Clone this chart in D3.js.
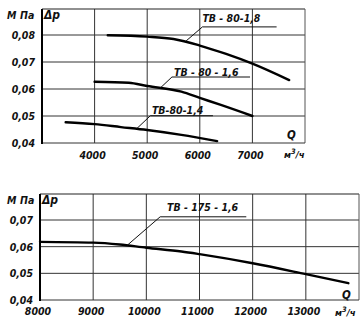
<!DOCTYPE html>
<html>
<head>
<meta charset="utf-8">
<script src="https://cdn.jsdelivr.net/npm/d3@7"></script>
<style>
  html, body { margin: 0; padding: 0; background: #fff; }
  svg { display: block; }
  text { font-family: "Liberation Sans Narrow", "DejaVu Sans Condensed", sans-serif; font-style: italic; font-weight: bold; fill: #111; }
</style>
</head>
<body>
<svg id="chart" width="363" height="325"></svg>
<script>
// ---------- DATA ----------
// Top chart: fan curves ТВ-80 (Q, м³/ч ; Δp, МПа)
const topXTicks = [4000, 5000, 6000, 7000];
const topYTicks = [0.04, 0.05, 0.06, 0.07, 0.08];
const topYTickLabels = ["0,04", "0,05", "0,06", "0,07", "0,08"];

const tv80_18_Q = [4250, 5000, 5500, 6000, 6500, 7000, 7700];
const tv80_18_P = [0.0799, 0.0794, 0.0785, 0.0761, 0.0730, 0.0694, 0.0633];

const tv80_16_Q = [4000, 4650, 5000, 5650, 6000, 6400, 7000];
const tv80_16_P = [0.0627, 0.0623, 0.0611, 0.0590, 0.0567, 0.0541, 0.0500];

const tv80_14_Q = [3450, 4000, 4500, 5000, 5650, 6330];
const tv80_14_P = [0.0477, 0.0470, 0.0459, 0.0448, 0.0430, 0.0407];

// Bottom chart: ТВ-175-1,6
const bottomXTicks = [8000, 9000, 10000, 11000, 12000, 13000];
const bottomYTicks = [0.04, 0.05, 0.06, 0.07];
const bottomYTickLabels = ["0,04", "0,05", "0,06", "0,07"];

const tv175_16_Q = [8000, 9000, 9500, 10000, 10660, 11000, 12000, 13000, 13800];
const tv175_16_P = [0.0618, 0.0615, 0.0608, 0.0596, 0.0582, 0.0572, 0.0538, 0.0497, 0.0463];

// Curve labels: [text, textQ, textP, lineStartQ, lineEndQ, lineP, leaderQ, leaderP]
const topLabels = [
  ["ТВ - 80-1,8", 6050, 0.0849, 6050, 7460, 0.0830, 5740, 0.0778],
  ["ТВ - 80 - 1,6", 5510, 0.0648, 5470, 6955, 0.06444, 5245, 0.0603],
  ["ТВ-80-1,4", 5090, 0.0506, 5060, 6250, 0.0501, 4800, 0.0453]
];
const bottomLabels = [
  ["ТВ - 175 - 1,6", 10390, 0.0733, 10260, 11880, 0.0712, 9640, 0.0605]
];

// ---------- DRAW ----------
const svg = d3.select("#chart");

function zip(q, p) { return q.map((d, i) => ({ q: d, p: p[i] })); }

function panel(cfg) {
  const g = svg.append("g");
  const x = d3.scaleLinear().domain(cfg.xDomain).range([cfg.left, cfg.right]);
  const y = d3.scaleLinear().domain(cfg.yDomain).range([cfg.bottom, cfg.yTopTick]);

  // gridlines
  g.selectAll(".vg").data(cfg.xTicks).enter().append("line")
    .attr("x1", d => x(d)).attr("x2", d => x(d))
    .attr("y1", cfg.top).attr("y2", cfg.bottom)
    .attr("stroke", "#333").attr("stroke-width", 1);
  g.selectAll(".hg").data(cfg.yTicks.filter(v => v > cfg.yDomain[0])).enter().append("line")
    .attr("x1", cfg.left).attr("x2", cfg.right)
    .attr("y1", d => y(d)).attr("y2", d => y(d))
    .attr("stroke", "#333").attr("stroke-width", 1);

  // frame
  g.append("line").attr("x1", cfg.left).attr("x2", cfg.right).attr("y1", cfg.top).attr("y2", cfg.top)
    .attr("stroke", "#222").attr("stroke-width", 1.2);
  g.append("line").attr("x1", cfg.right).attr("x2", cfg.right).attr("y1", cfg.top).attr("y2", cfg.bottom)
    .attr("stroke", "#555").attr("stroke-width", 1);
  g.append("line").attr("x1", cfg.left).attr("x2", cfg.right).attr("y1", cfg.bottom).attr("y2", cfg.bottom)
    .attr("stroke", "#333").attr("stroke-width", 1);
  g.append("line").attr("x1", cfg.left).attr("x2", cfg.left).attr("y1", cfg.top).attr("y2", cfg.bottom + 1)
    .attr("stroke", "#000").attr("stroke-width", 2);

  // y tick labels
  g.selectAll(".yl").data(cfg.yTicks).enter().append("text")
    .attr("x", cfg.left - 7).attr("y", d => y(d) + 4)
    .attr("text-anchor", "end").attr("font-size", 10.5)
    .text((d, i) => cfg.yTickLabels[i]);

  // x tick labels
  g.selectAll(".xl").data(cfg.xTicks).enter().append("text")
    .attr("x", d => x(d) - 2).attr("y", cfg.bottom + cfg.xLabelDy)
    .attr("text-anchor", "middle").attr("font-size", 10.5)
    .text(d => d);

  // units
  g.append("text").attr("x", 7).attr("y", cfg.top + 9.5).attr("font-size", 10.5).text("М");
  g.append("text").attr("x", 20).attr("y", cfg.top + 9.5).attr("font-size", 10.5).text("Па");
  g.append("text").attr("x", cfg.left + 2).attr("y", cfg.top + 10).attr("font-size", 12).text("Δp");
  g.append("text").attr("x", cfg.qX).attr("y", cfg.qY).attr("font-size", 11.5).text("Q");
  const u = g.append("text").attr("x", cfg.uX).attr("y", cfg.uY).attr("font-size", 9.5);
  u.append("tspan").text("м");
  u.append("tspan").attr("dy", -4).attr("font-size", 7.5).text("3");
  u.append("tspan").attr("dy", 4).text("/ч");

  // curves
  const line = d3.line().x(d => x(d.q)).y(d => y(d.p)).curve(d3.curveMonotoneX);
  cfg.series.forEach(s => {
    g.append("path").datum(zip(s[0], s[1])).attr("d", line)
      .attr("fill", "none").attr("stroke", "#000").attr("stroke-width", 2.4)
      .attr("stroke-linecap", "round");
  });

  // labels with underline and leader
  cfg.labels.forEach(l => {
    g.append("text").attr("x", x(l[1])).attr("y", y(l[2])).attr("font-size", 10.5).text(l[0]);
    g.append("line").attr("x1", x(l[3])).attr("x2", x(l[4])).attr("y1", y(l[5])).attr("y2", y(l[5]))
      .attr("stroke", "#111").attr("stroke-width", 1);
    g.append("line").attr("x1", x(l[3])).attr("x2", x(l[6])).attr("y1", y(l[5])).attr("y2", y(l[7]))
      .attr("stroke", "#111").attr("stroke-width", 1);
  });
}

panel({
  xDomain: [3000, 8000], left: 42, right: 305,
  yDomain: [0.04, 0.08], bottom: 143, yTopTick: 35, top: 9,
  xTicks: topXTicks, yTicks: topYTicks, yTickLabels: topYTickLabels,
  xLabelDy: 16, qX: 287, qY: 139, uX: 284, uY: 158,
  series: [[tv80_18_Q, tv80_18_P], [tv80_16_Q, tv80_16_P], [tv80_14_Q, tv80_14_P]],
  labels: topLabels
});

panel({
  xDomain: [8000, 14000], left: 40, right: 359,
  yDomain: [0.04, 0.07], bottom: 300, yTopTick: 220, top: 194,
  xTicks: bottomXTicks, yTicks: bottomYTicks, yTickLabels: bottomYTickLabels,
  xLabelDy: 15, qX: 342, qY: 299, uX: 335, uY: 316,
  series: [[tv175_16_Q, tv175_16_P]],
  labels: bottomLabels
});
</script>
</body>
</html>
